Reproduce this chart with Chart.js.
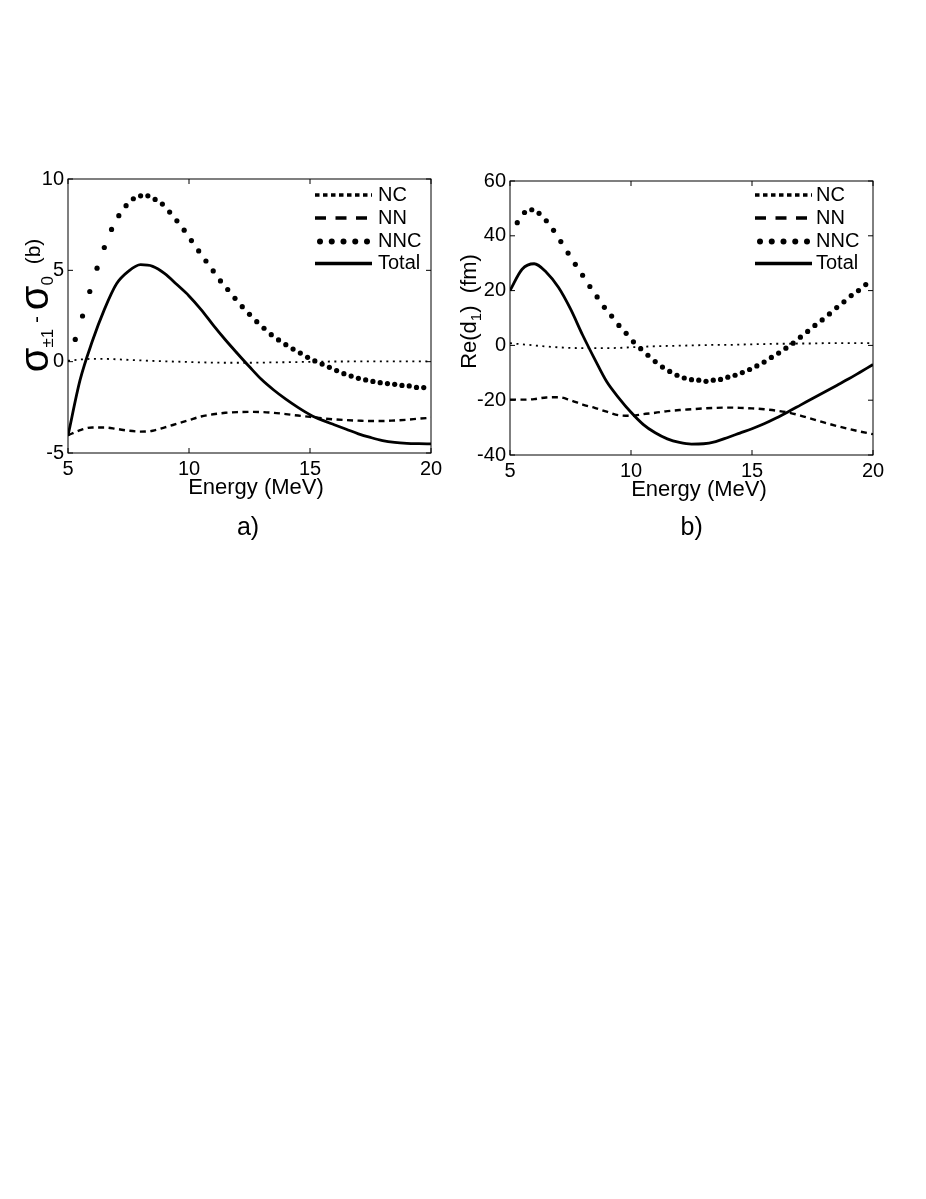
<!DOCTYPE html>
<html>
<head>
<meta charset="utf-8">
<script src="https://cdn.jsdelivr.net/npm/chart.js@4.4.0/dist/chart.umd.min.js"></script>
<style>
  html, body { margin: 0; padding: 0; background: #fff; }
  body { width: 926px; height: 1199px; position: relative; overflow: hidden; }
  .panel { position: absolute; top: 150px; height: 400px; }
</style>
</head>
<body>
<div class="panel" style="left:0;width:463px"><canvas id="chartA"></canvas></div>
<div class="panel" style="left:450px;width:476px"><canvas id="chartB"></canvas></div>
<script>
const FONT = "'Liberation Sans', Arial, Helvetica, sans-serif"

// energy grid of the smooth curves (MeV)
const energy = [5, 5.5, 6, 6.5, 7, 7.5, 8, 8.5, 9, 9.5, 10, 10.5, 11, 11.5, 12, 12.5,
  13, 13.5, 14, 14.5, 15, 15.5, 16, 16.5, 17, 17.5, 18, 18.5, 19, 19.5, 20]

// energy of the NNC markers (MeV)
const energyNNC = [5.3, 5.6, 5.9, 6.2, 6.5, 6.8, 7.1, 7.4, 7.7, 8.0, 8.3, 8.6, 8.9, 9.2,
  9.5, 9.8, 10.1, 10.4, 10.7, 11.0, 11.3, 11.6, 11.9, 12.2, 12.5, 12.8, 13.1, 13.4, 13.7,
  14.0, 14.3, 14.6, 14.9, 15.2, 15.5, 15.8, 16.1, 16.4, 16.7, 17.0, 17.3, 17.6, 17.9,
  18.2, 18.5, 18.8, 19.1, 19.4, 19.7]

// panel a) sigma(+-1) - sigma(0), in b
const ncA = [0.05, 0.12, 0.15, 0.15, 0.13, 0.1, 0.07, 0.04, 0.02, 0.0, -0.02, -0.04, -0.05,
  -0.06, -0.06, -0.06, -0.05, -0.04, -0.03, -0.02, -0.01, 0.0, 0.01, 0.01, 0.02, 0.02,
  0.02, 0.02, 0.02, 0.02, 0.02]
const nnA = [-4.03, -3.75, -3.6, -3.6, -3.68, -3.78, -3.83, -3.78, -3.6, -3.4, -3.2, -3.0,
  -2.88, -2.8, -2.76, -2.75, -2.76, -2.8, -2.87, -2.95, -3.02, -3.1, -3.16, -3.2, -3.23,
  -3.25, -3.25, -3.22, -3.18, -3.12, -3.07]
const nncA = [1.22, 2.5, 3.84, 5.12, 6.25, 7.24, 7.99, 8.54, 8.92, 9.08, 9.08, 8.88, 8.63,
  8.19, 7.71, 7.2, 6.63, 6.06, 5.51, 4.97, 4.42, 3.95, 3.47, 3.01, 2.59, 2.19, 1.83, 1.48,
  1.19, 0.93, 0.69, 0.47, 0.24, 0.04, -0.13, -0.31, -0.49, -0.66, -0.79, -0.91, -1.0,
  -1.08, -1.15, -1.2, -1.24, -1.3, -1.33, -1.41, -1.42]
const totalA = [-4.05, -1.0, 1.1, 2.85, 4.25, 4.95, 5.31, 5.22, 4.82, 4.22, 3.6, 2.85, 2.0,
  1.2, 0.45, -0.28, -0.98, -1.55, -2.05, -2.5, -2.9, -3.2, -3.45, -3.7, -3.95, -4.15,
  -4.32, -4.42, -4.47, -4.49, -4.5]

// panel b) Re(d1), in fm
const ncB = [0.8, 0.4, 0, -0.4, -0.7, -0.9, -1.0, -1.0, -1.0, -0.9, -0.7, -0.5, -0.3, -0.2,
  -0.1, 0, 0.1, 0.2, 0.2, 0.3, 0.4, 0.5, 0.6, 0.6, 0.7, 0.7, 0.8, 0.8, 0.8, 0.8, 0.8]
const nnB = [-19.8, -19.8, -19.6, -19.0, -18.9, -20.0, -21.6, -22.8, -24.2, -25.5, -25.7,
  -25.1, -24.6, -24.0, -23.6, -23.3, -23.0, -22.8, -22.7, -22.8, -23.0, -23.3, -23.8,
  -24.5, -25.6, -26.9, -28.2, -29.4, -30.5, -31.5, -32.4]
const nncB = [44.8, 48.5, 49.5, 48.2, 45.5, 42, 37.9, 33.7, 29.6, 25.6, 21.5, 17.7, 13.9,
  10.7, 7.3, 4.4, 1.3, -1.2, -3.6, -5.9, -7.9, -9.5, -10.9, -11.9, -12.5, -12.7, -13.1,
  -12.7, -12.4, -11.6, -10.9, -9.9, -8.8, -7.5, -6.1, -4.4, -2.8, -1.0, 0.8, 3.0, 5.1,
  7.3, 9.3, 11.5, 13.8, 15.9, 18.2, 20, 22.2]
const totalB = [20, 27.8, 29.8, 26.7, 21.2, 13.3, 3.8, -5.0, -13.3, -19.2, -24.4, -28.8,
  -31.9, -34.1, -35.4, -36, -35.9, -35.1, -33.6, -32, -30.4, -28.6, -26.5, -24.2, -21.8,
  -19.4, -17.0, -14.6, -12.2, -9.6, -7.0]

const xTicks = [5, 10, 15, 20]
const yTicksA = [-5, 0, 5, 10]
const yTicksB = [-40, -20, 0, 20, 40, 60]
const legendOrder = ["NC", "NN", "NNC", "Total"]

Chart.defaults.color = "#000"
Chart.defaults.font.family = FONT

const pts = (xs, ys) => xs.map((x, i) => ({ x: x, y: ys[i] }))

function buildDatasets(nc, nn, nnc, total) {
  return [
    {
      label: "Total",
      data: pts(energy, total),
      borderColor: "#000",
      borderWidth: 2.8,
      pointRadius: 0,
      cubicInterpolationMode: "monotone",
    },
    {
      label: "NNC",
      data: pts(energyNNC, nnc),
      showLine: false,
      pointRadius: 2.6,
      pointBackgroundColor: "#000",
      pointBorderWidth: 0,
    },
    {
      label: "NN",
      data: pts(energy, nn),
      borderColor: "#000",
      borderWidth: 2.4,
      borderDash: [6, 4.5],
      pointRadius: 0,
      cubicInterpolationMode: "monotone",
    },
    {
      label: "NC",
      data: pts(energy, nc),
      borderColor: "#000",
      borderWidth: 1.8,
      borderDash: [2, 4.5],
      pointRadius: 0,
      cubicInterpolationMode: "monotone",
    },
  ]
}

// legend line samples
const legendSamples = {
  NC: (ctx, x0, x1, y) => {
    ctx.lineWidth = 3.3
    ctx.setLineDash([4.5, 3.5])
    ctx.beginPath(); ctx.moveTo(x0, y); ctx.lineTo(x1, y); ctx.stroke()
  },
  NN: (ctx, x0, x1, y) => {
    ctx.lineWidth = 3.3
    ctx.setLineDash([11, 9.5])
    ctx.beginPath(); ctx.moveTo(x0, y); ctx.lineTo(x1, y); ctx.stroke()
  },
  NNC: (ctx, x0, x1, y) => {
    const step = (x1 - x0 - 10) / 4
    for (let i = 0; i < 5; i++) {
      ctx.beginPath()
      ctx.arc(x0 + 5 + i * step, y, 3, 0, Math.PI * 2)
      ctx.fill()
    }
  },
  Total: (ctx, x0, x1, y) => {
    ctx.lineWidth = 3.5
    ctx.setLineDash([])
    ctx.beginPath(); ctx.moveTo(x0, y); ctx.lineTo(x1, y); ctx.stroke()
  },
}

// text with sub/superscript pieces, optionally rotated
function drawRich(ctx, parts, cx, cy, rotate) {
  ctx.save()
  ctx.translate(cx, cy)
  if (rotate) ctx.rotate(-Math.PI / 2)
  ctx.textAlign = "left"
  ctx.textBaseline = "alphabetic"
  let total = 0
  const widths = parts.map((p) => {
    ctx.font = `${p.size}px ${FONT}`
    const w = ctx.measureText(p.t).width
    total += w
    return w
  })
  let x = -total / 2
  parts.forEach((p, i) => {
    ctx.font = `${p.size}px ${FONT}`
    ctx.fillText(p.t, x, p.dy || 0)
    x += widths[i]
  })
  ctx.restore()
}

const framePlugin = {
  id: "frame",
  afterDraw(chart, args, opts) {
    const { ctx, chartArea: a, scales } = chart
    ctx.save()
    ctx.strokeStyle = "#000"
    ctx.fillStyle = "#000"

    // box + inner ticks on all four sides
    ctx.lineWidth = 1
    ctx.strokeRect(a.left, a.top, a.right - a.left, a.bottom - a.top)
    ctx.beginPath()
    scales.x.ticks.forEach((t) => {
      const px = scales.x.getPixelForValue(t.value)
      ctx.moveTo(px, a.bottom); ctx.lineTo(px, a.bottom - 5)
      ctx.moveTo(px, a.top); ctx.lineTo(px, a.top + 5)
    })
    scales.y.ticks.forEach((t) => {
      const py = scales.y.getPixelForValue(t.value)
      ctx.moveTo(a.left, py); ctx.lineTo(a.left + 5, py)
      ctx.moveTo(a.right, py); ctx.lineTo(a.right - 5, py)
    })
    ctx.stroke()

    // legend
    const lg = opts.legend
    legendOrder.forEach((label, i) => {
      const y = lg.rows[i]
      ctx.save()
      legendSamples[label](ctx, lg.x0, lg.x1, y)
      ctx.restore()
      ctx.font = `${lg.size}px ${FONT}`
      ctx.textAlign = "left"
      ctx.textBaseline = "middle"
      ctx.fillText(label, lg.textX, y)
    })

    // axis titles and caption
    drawRich(ctx, opts.yLabel.parts, opts.yLabel.x, opts.yLabel.y, true)
    drawRich(ctx, [{ t: "Energy (MeV)", size: 22 }], opts.xLabel.x, opts.xLabel.y, false)
    drawRich(ctx, [{ t: opts.caption.text, size: 25 }], opts.caption.x, opts.caption.y, false)
    ctx.restore()
  },
}

function makePanel(id, datasets, yTicks, p) {
  new Chart(document.getElementById(id), {
    type: "line",
    data: { datasets: datasets },
    plugins: [framePlugin],
    options: {
      responsive: true,
      maintainAspectRatio: false,
      animation: false,
      layout: { padding: { top: p.padTop, right: p.padRight, left: 0, bottom: 0 } },
      plugins: {
        legend: { display: false },
        tooltip: { enabled: false },
        frame: p.frame,
      },
      scales: {
        x: {
          type: "linear",
          min: xTicks[0],
          max: xTicks[xTicks.length - 1],
          afterBuildTicks: (axis) => { axis.ticks = xTicks.map((v) => ({ value: v })) },
          afterFit: (axis) => { axis.height = p.xHeight },
          grid: { display: false, drawTicks: false },
          border: { display: false },
          ticks: { font: { size: 20 }, padding: 4, maxRotation: 0 },
        },
        y: {
          type: "linear",
          min: yTicks[0],
          max: yTicks[yTicks.length - 1],
          afterBuildTicks: (axis) => { axis.ticks = yTicks.map((v) => ({ value: v })) },
          afterFit: (axis) => { axis.width = p.yWidth },
          grid: { display: false, drawTicks: false },
          border: { display: false },
          ticks: { font: { size: 20 }, padding: 4 },
        },
      },
    },
  })
}

makePanel("chartA", buildDatasets(ncA, nnA, nncA, totalA), yTicksA, {
  padTop: 29, padRight: 32, xHeight: 97, yWidth: 68,
  frame: {
    legend: { x0: 315, x1: 372, textX: 378, size: 20, rows: [45, 68, 91.5, 113.5] },
    yLabel: {
      x: 48, y: 155.5,
      parts: [
        { t: "σ", size: 40 }, { t: "±1", size: 17, dy: 5 }, { t: " - ", size: 21, dy: -5 },
        { t: "σ", size: 40 }, { t: "0", size: 17, dy: 5 }, { t: "  (b)", size: 21, dy: -8 },
      ],
    },
    xLabel: { x: 256, y: 344 },
    caption: { text: "a)", x: 248, y: 385 },
  },
})

makePanel("chartB", buildDatasets(ncB, nnB, nncB, totalB), yTicksB, {
  padTop: 31, padRight: 53, xHeight: 95, yWidth: 60,
  frame: {
    legend: { x0: 305, x1: 362, textX: 366, size: 20, rows: [45, 68, 91.5, 113.5] },
    yLabel: {
      x: 26, y: 161.5,
      parts: [
        { t: "Re(d", size: 22 }, { t: "1", size: 15, dy: 5 }, { t: ")  (fm)", size: 22 },
      ],
    },
    xLabel: { x: 249, y: 346 },
    caption: { text: "b)", x: 241.7, y: 385 },
  },
})
</script>
</body>
</html>
